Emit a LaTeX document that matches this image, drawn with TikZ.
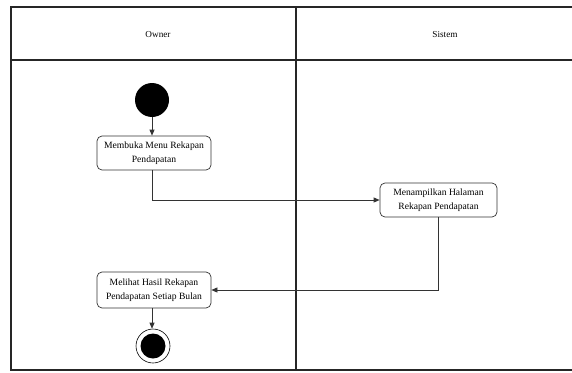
\documentclass[tikz,border=0pt]{standalone}
\usepackage{fontspec}
\setmainfont{Liberation Serif}
\usetikzlibrary{arrows.meta}
\begin{document}
\begin{tikzpicture}[x=1pt,y=-1pt,
  lane/.style={line width=1.6pt,draw=black!85},
  act/.style={draw=black!80,line width=0.7pt,rounded corners=5pt,fill=white,
    minimum width=114pt,minimum height=34pt,align=center,inner sep=1pt,
    font=\fontsize{9.6}{13.5}\selectfont},
  flow/.style={draw=black!80,line width=0.7pt,-{Triangle[length=6pt,width=5pt]}},
  lbl/.style={font=\fontsize{9.2}{11}\selectfont}]
\useasboundingbox (0,0) rectangle (572,372);
% swimlane frame
\draw[lane] (572,7) -- (11,7) -- (11,370) -- (572,370);
\draw[lane] (11,60) -- (572,60);
\draw[lane] (296,7) -- (296,370);
\node[lbl] (owner) at (158,34) {Owner};
\node[lbl] (sistem) at (445,34) {Sistem};
% start and end
\node[circle,fill=black,minimum size=34pt,inner sep=0pt] (start) at (152,100) {};
\node[circle,draw=black,line width=0.6pt,fill=white,minimum size=34pt,inner sep=0pt] (stop) at (153,346) {};
\node[circle,fill=black,minimum size=25pt,inner sep=0pt] (stopdot) at (stop) {};
% activities
\node[act] (a1) at (154,153) {Membuka Menu Rekapan\\Pendapatan};
\node[act,minimum width=117pt] (a2) at (438.5,200) {Menampilkan Halaman\\Rekapan Pendapatan};
\node[act,minimum height=36pt] (a3) at (154,290) {Melihat Hasil Rekapan\\Pendapatan Setiap Bulan};
% transitions
\draw[flow] (start) -- (start |- a1.north);
\draw[flow] (a1.south -| 152,0) |- (a2.west);
\draw[flow] (a2.south) |- (a3.east);
\draw[flow] (a3.south -| 152,0) -- (stop.north -| 152,0);
\end{tikzpicture}
\end{document}
